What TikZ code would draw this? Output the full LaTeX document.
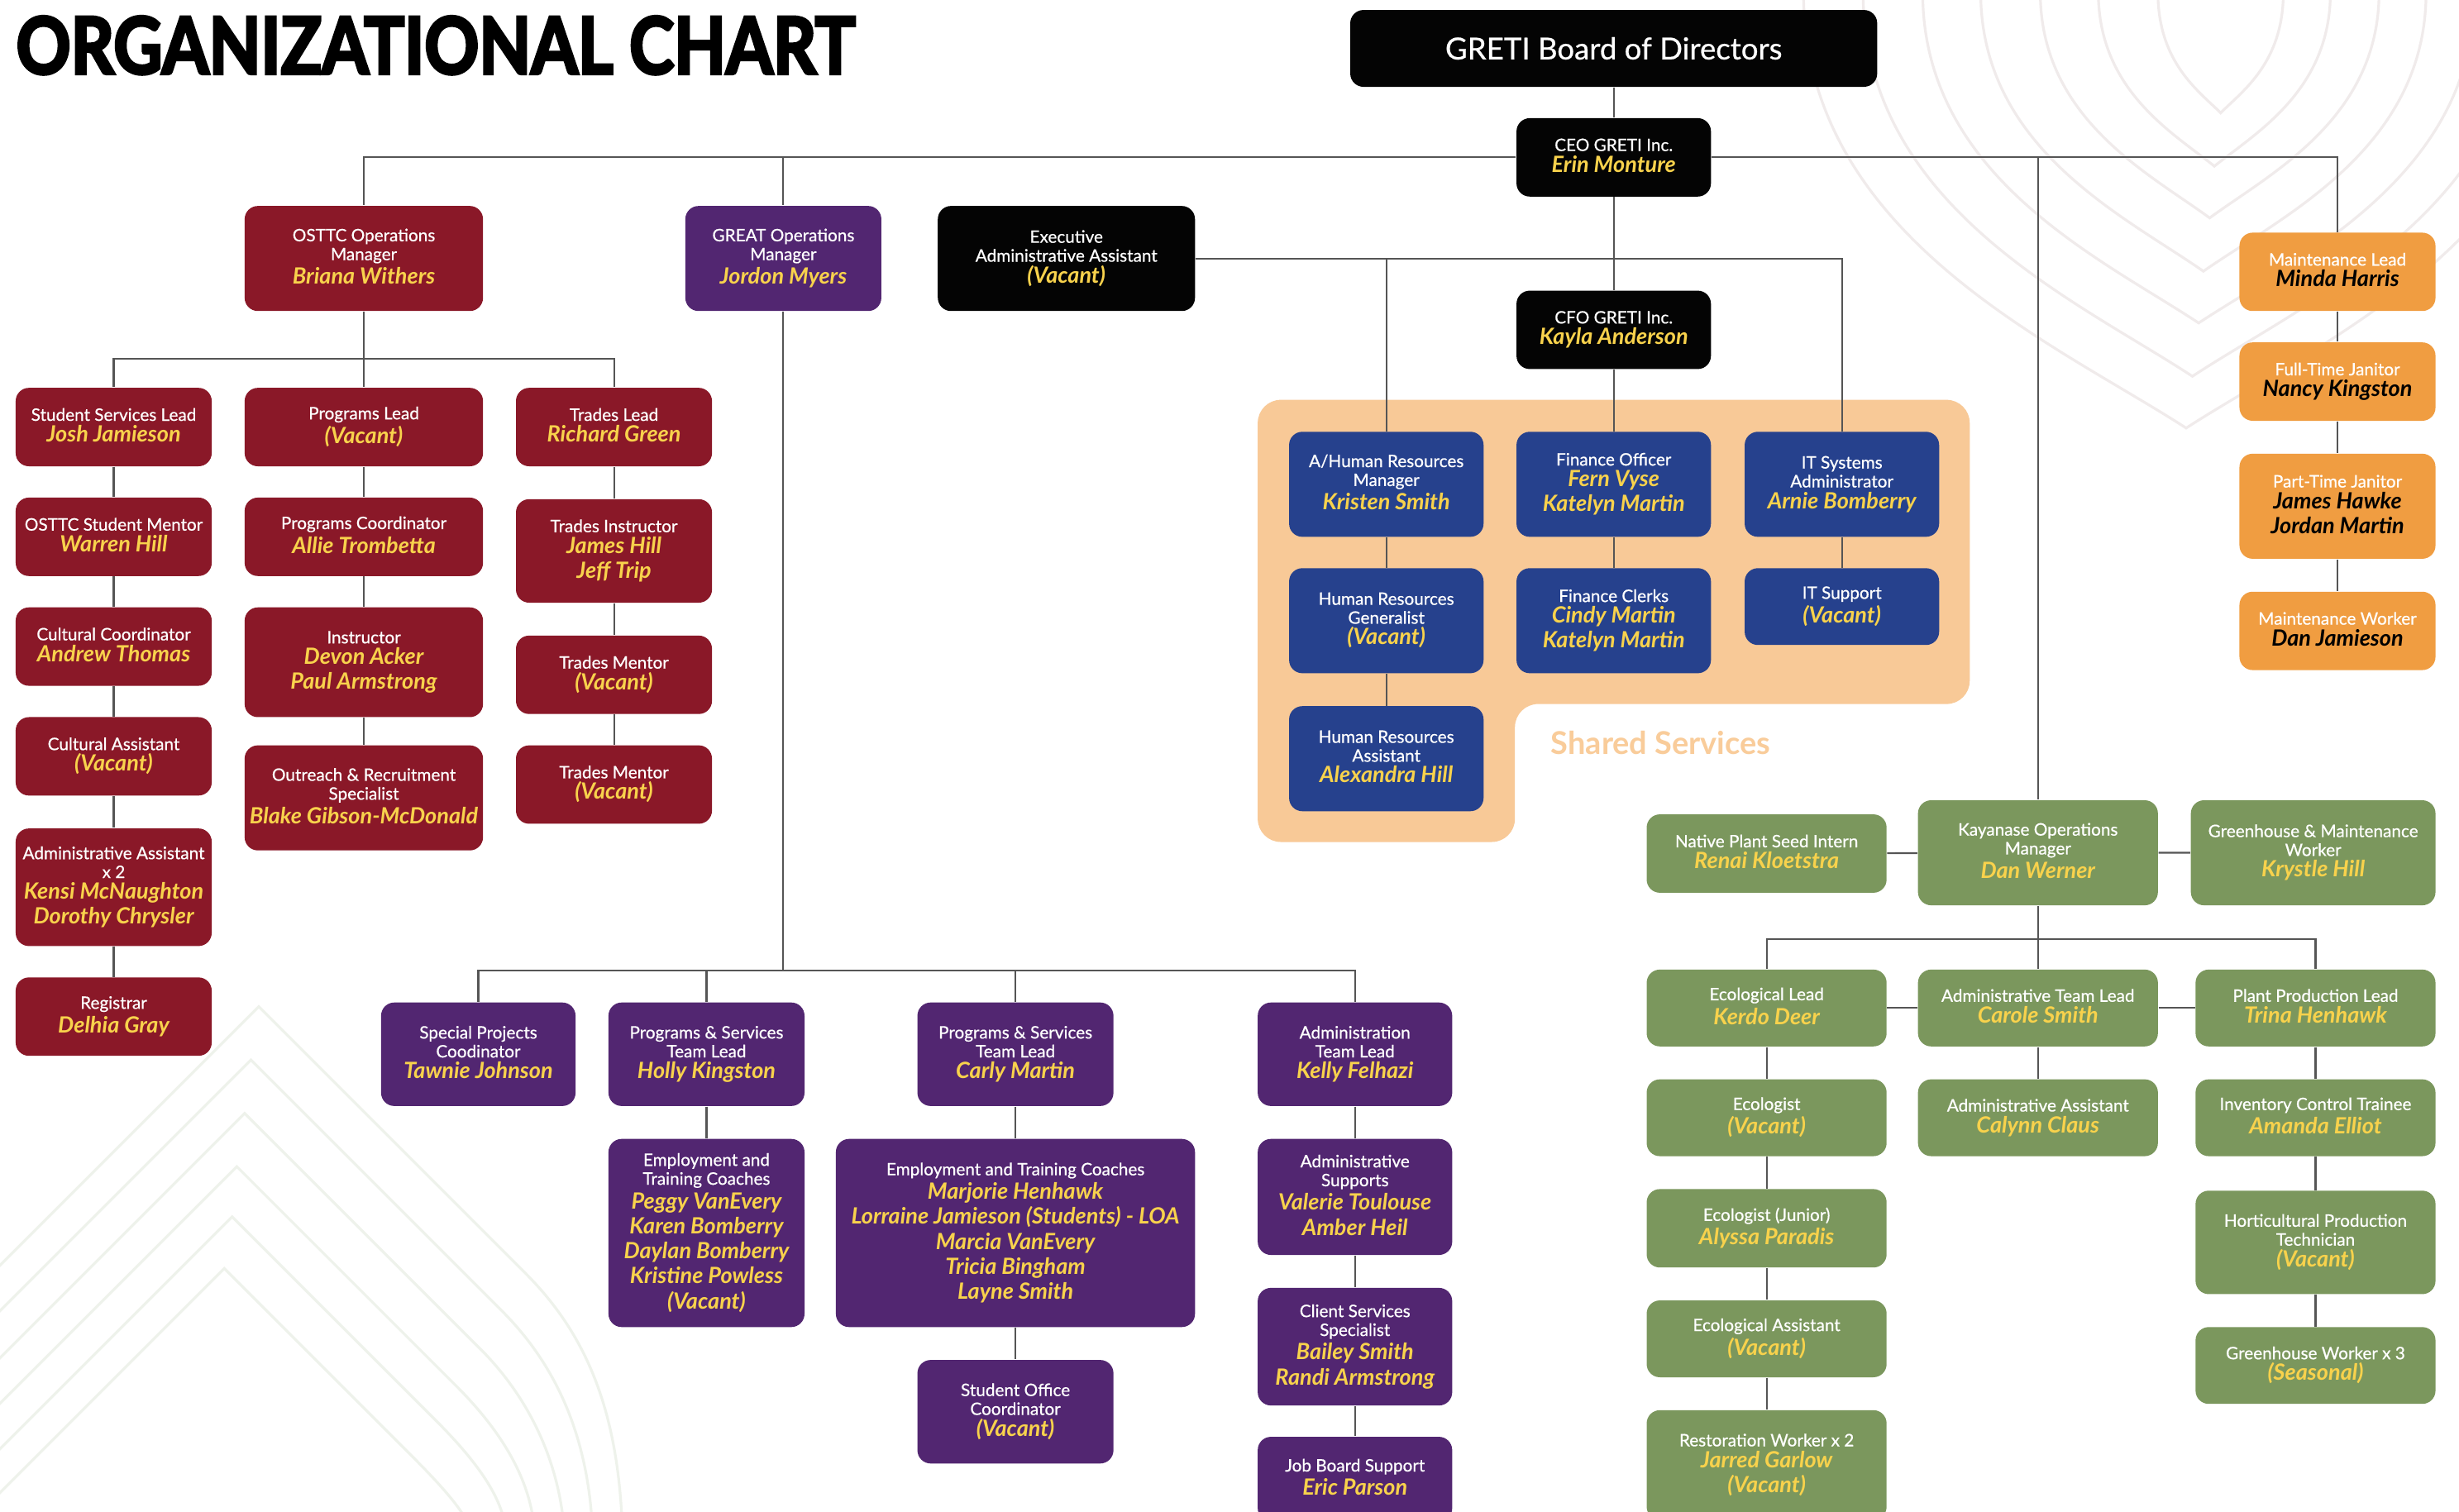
\documentclass[tikz,border=0pt]{standalone}
\usepackage{fontspec}
\usepackage{graphicx}
\setmainfont{Lato}[UprightFeatures={FakeBold=0.6}]
\newfontfamily\titlefont{Lato}[BoldFeatures={FakeBold=4}]
\definecolor{osttc}{HTML}{8A1828}
\definecolor{great}{HTML}{522671}
\definecolor{execblk}{HTML}{040404}
\definecolor{ssblue}{HTML}{26418D}
\definecolor{maint}{HTML}{F09D41}
\definecolor{kaya}{HTML}{7B975D}
\definecolor{peach}{HTML}{F8C997}
\definecolor{ssword}{HTML}{F9CC9A}
\definecolor{nameyel}{HTML}{F8D24C}
\definecolor{conngray}{HTML}{555555}
\definecolor{decoa}{HTML}{F0EBEB}
\definecolor{decob}{HTML}{EEF2EB}
\newcommand\lbl{\fontsize{5.9}{6.5}\selectfont\lineskip=0pt}
\newcommand\nm[1]{{\fontsize{7.7}{9}\selectfont\bfseries\itshape\color{nameyel}\rule[-1.4pt]{0pt}{8.6pt}#1}}
\newcommand\nk[1]{{\fontsize{7.7}{9}\selectfont\bfseries\itshape\color{black}\rule[-1.4pt]{0pt}{8.6pt}#1}}
\begin{document}
\begin{tikzpicture}
[x=0.18967mm,y=-0.18967mm,
 card/.style={rounded corners=1.6mm,align=center,font=\lbl,text=white,inner sep=1pt,anchor=north},
 bw/.style={minimum width=#1*0.18967mm},
 bh/.style={minimum height=#1*0.18967mm},
 osttcbox/.style={card,fill=osttc},
 greatbox/.style={card,fill=great},
 execbox/.style={card,fill=execblk},
 sharedbox/.style={card,fill=ssblue,bw=124},
 maintbox/.style={card,fill=maint,bw=125},
 kayabox/.style={card,fill=kaya,bw=153},
 conn/.style={draw=conngray,line width=0.6pt},
 deco/.style={line width=0.9pt}]
\useasboundingbox (0,0) rectangle (1568,964);
\clip (0,0) rectangle (1568,964);
\fill[white] (0,0) rectangle (1568,964);

\draw[deco,decoa] (1376,-5) .. controls (1376,40) and (1402,58) .. (1416,72) .. controls (1430,58) and (1456,40) .. (1456,-5);
\draw[deco,decoa] (1338,-5) .. controls (1338,58) and (1386,85) .. (1412,106) .. controls (1438,85) and (1486,58) .. (1486,-5);
\draw[deco,decoa] (1301,-5) .. controls (1301,76) and (1371,111) .. (1409,139) .. controls (1447,111) and (1517,76) .. (1517,-5);
\draw[deco,decoa] (1263,-5) .. controls (1263,95) and (1355,138) .. (1405,173) .. controls (1455,138) and (1547,95) .. (1547,-5);
\draw[deco,decoa] (1226,-5) .. controls (1226,113) and (1340,165) .. (1402,206) .. controls (1464,165) and (1578,113) .. (1578,-5);
\draw[deco,decoa] (1188,-5) .. controls (1188,132) and (1325,192) .. (1398,240) .. controls (1471,192) and (1608,132) .. (1608,-5);
\draw[deco,decoa] (1150,-5) .. controls (1150,150) and (1309,218) .. (1394,273) .. controls (1479,218) and (1638,150) .. (1638,-5);

\draw[deco,decob] (-10,817) -- (165,642) -- (335,812) .. controls (375,852) and (395,902) .. (397,980);
\draw[deco,decob] (-10,846) -- (160,676) -- (320,836) .. controls (358,874) and (376,922) .. (378,980);
\draw[deco,decob] (-10,876) -- (156,710) -- (306,860) .. controls (342,896) and (358,940) .. (360,980);
\draw[deco,decob] (-10,905) -- (151,744) -- (291,884) .. controls (325,918) and (340,950) .. (341,980);
\draw[deco,decob] (-10,934) -- (148,776) -- (278,906) .. controls (310,938) and (322,960) .. (323,980);
\draw[deco,decob] (-10,962) -- (143,809) -- (263,929) .. controls (290,956) and (300,970) .. (301,980);

\fill[peach,rounded corners=2.8mm] (802,255) -- (1256,255) -- (1256,449) -- (966,449) -- (966,537) -- (802,537) -- cycle;
\node[font=\fontsize{10.8}{12}\selectfont\bfseries,text=ssword] (sswords) at (1059,474) {Shared Services};

\node[anchor=base west,inner sep=0,font=\fontsize{27}{27}\titlefont\bfseries] (title) at (10,47) {\scalebox{0.86}[1]{ORGANIZATIONAL CHART}};

\node[execbox,bw=336,bh=49,font=\fontsize{10.4}{12}\selectfont] (board) at (1029,6) {GRETI Board of Directors};
\node[execbox,bw=124,bh=50] (ceo) at (1029,75) {CEO GRETI Inc.\\\nm{Erin Monture}};
\node[execbox,bw=124,bh=50] (cfo) at (1029,185) {CFO GRETI Inc.\\\nm{Kayla Anderson}};
\node[execbox,bw=164,bh=67] (exec) at (680,131) {Executive\\Administrative Assistant\\\nm{(Vacant)}};

\node[osttcbox,bw=152,bh=67] (osttc) at (232,131) {OSTTC Operations\\Manager\\\nm{Briana Withers}};
\node[osttcbox,bw=125,bh=50] (ssl) at (72.5,247) {Student Services Lead\\\nm{Josh Jamieson}};
\node[osttcbox,bw=125,bh=50] (mentor) at (72.5,317) {OSTTC Student Mentor\\\nm{Warren Hill}};
\node[osttcbox,bw=125,bh=50] (ccoord) at (72.5,387) {Cultural Coordinator\\\nm{Andrew Thomas}};
\node[osttcbox,bw=125,bh=50] (cassist) at (72.5,457) {Cultural Assistant\\\nm{(Vacant)}};
\node[osttcbox,bw=125,bh=75] (admasst) at (72.5,528) {Administrative Assistant\\x 2\\\nm{Kensi McNaughton}\\\nm{Dorothy Chrysler}};
\node[osttcbox,bw=125,bh=50] (registrar) at (72.5,623) {Registrar\\\nm{Delhia Gray}};
\node[osttcbox,bw=152,bh=50] (pl) at (232,247) {Programs Lead\\\nm{(Vacant)}};
\node[osttcbox,bw=152,bh=50] (pc) at (232,317) {Programs Coordinator\\\nm{Allie Trombetta}};
\node[osttcbox,bw=152,bh=70] (instr) at (232,387) {Instructor\\\nm{Devon Acker}\\\nm{Paul Armstrong}};
\node[osttcbox,bw=152,bh=67] (outr) at (232,475) {Outreach \& Recruitment\\Specialist\\\nm{Blake Gibson-McDonald}};
\node[osttcbox,bw=125,bh=50] (trl) at (391.5,247) {Trades Lead\\\nm{Richard Green}};
\node[osttcbox,bw=125,bh=66] (tri) at (391.5,318) {Trades Instructor\\\nm{James Hill}\\\nm{Jeff Trip}};
\node[osttcbox,bw=125,bh=50] (tma) at (391.5,405) {Trades Mentor\\\nm{(Vacant)}};
\node[osttcbox,bw=125,bh=50] (tmb) at (391.5,475) {Trades Mentor\\\nm{(Vacant)}};

\node[greatbox,bw=125,bh=67] (great) at (499.5,131) {GREAT Operations\\Manager\\\nm{Jordon Myers}};
\node[greatbox,bw=124,bh=66] (spc) at (305,639) {Special Projects\\Coodinator\\\nm{Tawnie Johnson}};
\node[greatbox,bw=125,bh=66] (pst1) at (450.5,639) {Programs \& Services\\Team Lead\\\nm{Holly Kingston}};
\node[greatbox,bw=125,bh=66] (pst2) at (647.5,639) {Programs \& Services\\Team Lead\\\nm{Carly Martin}};
\node[greatbox,bw=124,bh=66] (adtl) at (864,639) {Administration\\Team Lead\\\nm{Kelly Felhazi}};
\node[greatbox,bw=125,bh=120] (etc1) at (450.5,726) {Employment and\\Training Coaches\\\nm{Peggy VanEvery}\\\nm{Karen Bomberry}\\\nm{Daylan Bomberry}\\\nm{Kristine Powless}\\\nm{(Vacant)}};
\node[greatbox,bw=229,bh=120] (etc2) at (647.5,726) {Employment and Training Coaches\\\nm{Marjorie Henhawk}\\\nm{Lorraine Jamieson (Students) - LOA}\\\nm{Marcia VanEvery}\\\nm{Tricia Bingham}\\\nm{Layne Smith}};
\node[greatbox,bw=125,bh=66] (soc) at (647.5,867) {Student Office\\Coordinator\\\nm{(Vacant)}};
\node[greatbox,bw=124,bh=74] (adsup) at (864,726) {Administrative\\Supports\\\nm{Valerie Toulouse}\\\nm{Amber Heil}};
\node[greatbox,bw=124,bh=75] (css) at (864,821) {Client Services\\Specialist\\\nm{Bailey Smith}\\\nm{Randi Armstrong}};
\node[greatbox,bw=124,bh=54] (jbs) at (864,916) {Job Board Support\\\nm{Eric Parson}};

\node[sharedbox,bh=67] (hrm) at (884,275) {A/Human Resources\\Manager\\\nm{Kristen Smith}};
\node[sharedbox,bh=67] (hrg) at (884,362) {Human Resources\\Generalist\\\nm{(Vacant)}};
\node[sharedbox,bh=67] (hra) at (884,450) {Human Resources\\Assistant\\\nm{Alexandra Hill}};
\node[sharedbox,bh=67] (fo) at (1029,275) {Finance Officer\\\nm{Fern Vyse}\\\nm{Katelyn Martin}};
\node[sharedbox,bh=67] (fc) at (1029,362) {Finance Clerks\\\nm{Cindy Martin}\\\nm{Katelyn Martin}};
\node[sharedbox,bh=67] (itsa) at (1174.5,275) {IT Systems\\Administrator\\\nm{Arnie Bomberry}};
\node[sharedbox,bh=49] (its) at (1174.5,362) {IT Support\\\nm{(Vacant)}};

\node[maintbox,bh=50] (mlead) at (1490.5,148) {Maintenance Lead\\\nk{Minda Harris}};
\node[maintbox,bh=50] (ftj) at (1490.5,218) {Full-Time Janitor\\\nk{Nancy Kingston}};
\node[maintbox,bh=67] (ptj) at (1490.5,289) {Part-Time Janitor\\\nk{James Hawke}\\\nk{Jordan Martin}};
\node[maintbox,bh=50] (mwork) at (1490.5,377) {Maintenance Worker\\\nk{Dan Jamieson}};

\node[kayabox,bh=67] (kaya) at (1299.5,510) {Kayanase Operations\\Manager\\\nm{Dan Werner}};
\node[kayabox,bh=50] (npi) at (1126.5,519) {Native Plant Seed Intern\\\nm{Renai Kloetstra}};
\node[kayabox,bw=156,bh=67] (ghw) at (1475,510) {Greenhouse \& Maintenance\\Worker\\\nm{Krystle Hill}};
\node[kayabox,bh=49] (ecl) at (1126.5,618) {Ecological Lead\\\nm{Kerdo Deer}};
\node[kayabox,bh=49] (atl) at (1299.5,618) {Administrative Team Lead\\\nm{Carole Smith}};
\node[kayabox,bh=49] (ppl) at (1476.5,618) {Plant Production Lead\\\nm{Trina Henhawk}};
\node[kayabox,bh=49] (eco) at (1126.5,688) {Ecologist\\\nm{(Vacant)}};
\node[kayabox,bh=50] (ecoj) at (1126.5,758) {Ecologist (Junior)\\\nm{Alyssa Paradis}};
\node[kayabox,bh=49] (ecoa) at (1126.5,829) {Ecological Assistant\\\nm{(Vacant)}};
\node[kayabox,bh=70] (rest) at (1126.5,899) {Restoration Worker x 2\\\nm{Jarred Garlow}\\\nm{(Vacant)}};
\node[kayabox,bh=49] (aa) at (1299.5,688) {Administrative Assistant\\\nm{Calynn Claus}};
\node[kayabox,bh=49] (ict) at (1476.5,688) {Inventory Control Trainee\\\nm{Amanda Elliot}};
\node[kayabox,bh=66] (hpt) at (1476.5,759) {Horticultural Production\\Technician\\\nm{(Vacant)}};
\node[kayabox,bh=49] (gw) at (1476.5,846) {Greenhouse Worker x 3\\\nm{(Seasonal)}};

\draw[conn] (board) -- (ceo) -- (cfo) -- (fo);
\draw[conn] (ceo.west) -| (osttc.north) (ceo.west) -| (great.north);
\draw[conn] (ceo.east) -| (kaya.north) (ceo.east) -| (mlead.north);
\draw[conn] (exec.east) -| (hrm.north) (exec.east) -| (itsa.north);
\draw[conn] (osttc.south) -- ++(0,30) coordinate (ob) -| (ssl.north) (ob) -| (trl.north) (ob) -- (pl.north);
\draw[conn] (ssl) -- (mentor) -- (ccoord) -- (cassist) -- (admasst) -- (registrar);
\draw[conn] (pl) -- (pc) -- (instr) -- (outr);
\draw[conn] (trl) -- (tri) -- (tma) -- (tmb);
\draw[conn] (great.south) -- ++(0,420) coordinate (gb) -| (spc.north) (gb) -| (adtl.north) (gb) -| (pst1.north) (gb) -| (pst2.north);
\draw[conn] (pst1) -- (etc1);
\draw[conn] (pst2) -- (etc2) -- (soc);
\draw[conn] (adtl) -- (adsup) -- (css) -- (jbs);
\draw[conn] (hrm) -- (hrg) -- (hra);
\draw[conn] (fo) -- (fc);
\draw[conn] (itsa) -- (its);
\draw[conn] (mlead) -- (ftj) -- (ptj) -- (mwork);
\draw[conn] (npi) -- (kaya) -- (ghw);
\draw[conn] (kaya.south) -- ++(0,21) coordinate (kb) -| (ecl.north) (kb) -| (ppl.north) (kb) -- (atl.north);
\draw[conn] (ecl) -- (atl) -- (ppl);
\draw[conn] (ecl) -- (eco) -- (ecoj) -- (ecoa) -- (rest);
\draw[conn] (atl) -- (aa);
\draw[conn] (ppl) -- (ict) -- (hpt) -- (gw);
\end{tikzpicture}
\end{document}
